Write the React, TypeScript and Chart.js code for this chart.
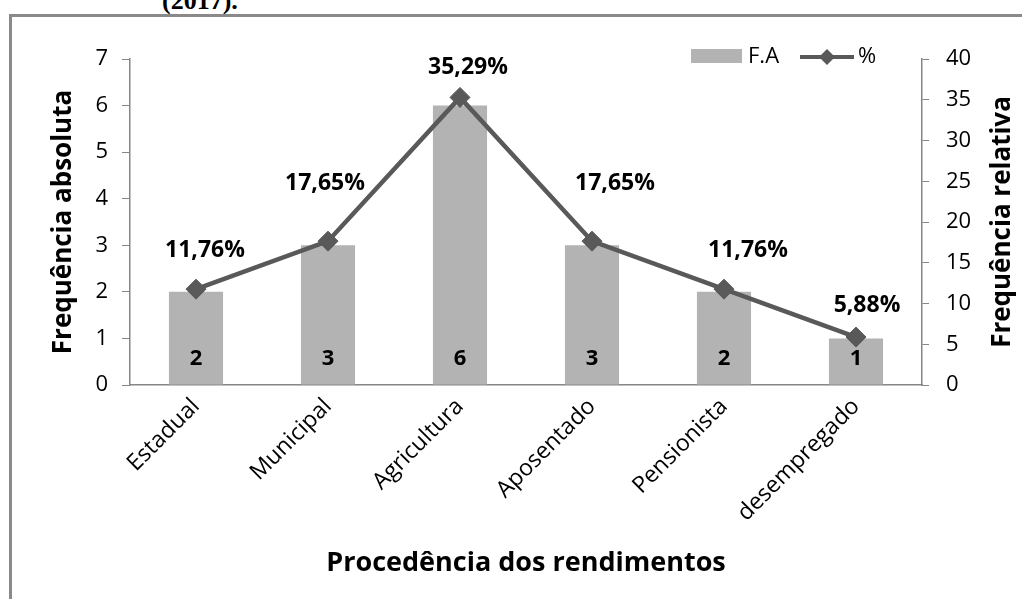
import React, { useEffect, useRef } from "react";
import { Chart, registerables } from "chart.js";

Chart.register(...registerables);

// ---- data ----
const categories = ["Estadual", "Municipal", "Agricultura", "Aposentado", "Pensionista", "desempregado"];
const absoluteFreq = [2, 3, 6, 3, 2, 1];
const relativeFreq = [11.76, 17.65, 35.29, 17.65, 11.76, 5.88];
const leftAxisMax = 7;
const rightAxisMax = 40;
const rightAxisStep = 5;
const seriesNames = ["F.A", "%"];
const leftTitle = "Frequência absoluta";
const rightTitle = "Frequência relativa";
const bottomTitle = "Procedência dos rendimentos";
const headerText = "(2017).";

// ---- styles (label nudges, as in the original manual placement) ----
const pctLabelDx = [9, -3, 8, 23, 24, 11];
const pctLabelDy = [-39, -58, -30, -58, -39, -32];

const FONT = '"Open Sans", "Noto Sans", sans-serif';
const BAR_COLOR = "#b3b3b3";
const LINE_COLOR = "#595959";
const AXIS_COLOR = "#868686";

const overlayPlugin = {
  id: "overlay",
  afterDatasetsDraw(chart: any) {
    const { ctx, chartArea } = chart;
    const yScale = chart.scales.y;
    ctx.save();
    ctx.fillStyle = "#000";
    ctx.textAlign = "center";
    ctx.textBaseline = "middle";
    ctx.font = `bold 22px ${FONT}`;
    // bar value labels
    const barMeta = chart.getDatasetMeta(0);
    barMeta.data.forEach((el: any, i: number) => {
      ctx.fillText(String(absoluteFreq[i]), el.x, yScale.getPixelForValue(0) - 26);
    });
    // percentage labels
    ctx.font = `bold 23px ${FONT}`;
    const lineMeta = chart.getDatasetMeta(1);
    lineMeta.data.forEach((el: any, i: number) => {
      const txt = relativeFreq[i].toFixed(2).replace(".", ",") + "%";
      ctx.fillText(txt, el.x + pctLabelDx[i], el.y + pctLabelDy[i]);
    });

    // axis titles
    const midY = (chartArea.top + chartArea.bottom) / 2;
    ctx.font = `bold 26px ${FONT}`;
    ctx.save();
    ctx.translate(64, midY);
    ctx.rotate(-Math.PI / 2);
    ctx.fillText(leftTitle, 0, 0);
    ctx.restore();
    ctx.save();
    ctx.translate(chartArea.right + 81, midY);
    ctx.rotate(-Math.PI / 2);
    ctx.fillText(rightTitle, 0, 0);
    ctx.restore();
    ctx.font = `bold 27px ${FONT}`;
    ctx.fillText(bottomTitle, (chartArea.left + chartArea.right) / 2, 563);

    // legend
    const lx = chartArea.right - 231;
    const ly = chartArea.top - 2;
    ctx.fillStyle = BAR_COLOR;
    ctx.fillRect(lx, ly - 8, 51, 14);
    ctx.fillStyle = "#000";
    ctx.font = `22px ${FONT}`;
    ctx.textAlign = "left";
    ctx.fillText(seriesNames[0], lx + 57, ly);
    const sx = lx + 109;
    ctx.strokeStyle = LINE_COLOR;
    ctx.lineWidth = 4;
    ctx.beginPath();
    ctx.moveTo(sx, ly);
    ctx.lineTo(sx + 54, ly);
    ctx.stroke();
    ctx.fillStyle = LINE_COLOR;
    ctx.beginPath();
    const cx = sx + 27;
    ctx.moveTo(cx, ly - 8);
    ctx.lineTo(cx + 8, ly);
    ctx.lineTo(cx, ly + 8);
    ctx.lineTo(cx - 8, ly);
    ctx.closePath();
    ctx.fill();
    ctx.fillStyle = "#000";
    ctx.fillText(seriesNames[1], sx + 58, ly);
    ctx.restore();
  },
};

function ChartView() {
  const ref = useRef<HTMLCanvasElement | null>(null);
  useEffect(() => {
    if (!ref.current) return;
    const tickFont = { family: FONT, size: 22 };
    const chart = new Chart(ref.current, {
      type: "bar",
      data: {
        labels: categories,
        datasets: [
          {
            type: "bar",
            label: seriesNames[0],
            data: absoluteFreq,
            backgroundColor: BAR_COLOR,
            yAxisID: "y",
            order: 1,
            barPercentage: 0.41,
            categoryPercentage: 1,
          },
          {
            type: "line",
            label: seriesNames[1],
            data: relativeFreq,
            borderColor: LINE_COLOR,
            backgroundColor: LINE_COLOR,
            borderWidth: 4.5,
            pointStyle: "rectRot",
            pointRadius: 10,
            pointBackgroundColor: LINE_COLOR,
            pointBorderColor: LINE_COLOR,
            pointBorderWidth: 1,
            tension: 0,
            yAxisID: "y1",
            order: 0,
          } as any,
        ],
      },
      options: {
        animation: false,
        responsive: false,
        layout: { padding: { top: 59, left: 0, right: 0, bottom: 0 } },
        plugins: { legend: { display: false }, tooltip: { enabled: false } },
        scales: {
          x: {
            grid: { display: true, drawOnChartArea: false, drawTicks: false, color: AXIS_COLOR },
            border: { color: AXIS_COLOR, width: 1.5 },
            ticks: {
              font: { family: FONT, size: 23 },
              color: "#000",
              minRotation: 45,
              maxRotation: 45,
              padding: 8,
            },
            afterFit: (s: any) => {
              s.height = 214;
            },
          },
          y: {
            position: "left",
            min: 0,
            max: leftAxisMax,
            grid: { drawOnChartArea: false, drawTicks: true, tickLength: 8, color: AXIS_COLOR },
            border: { color: AXIS_COLOR, width: 1.5 },
            ticks: { stepSize: 1, font: tickFont, color: "#000", padding: 14 },
            afterFit: (s: any) => {
              s.width = 130;
            },
          },
          y1: {
            position: "right",
            min: 0,
            max: rightAxisMax,
            grid: { drawOnChartArea: false, drawTicks: true, tickLength: 7, color: AXIS_COLOR },
            border: { color: AXIS_COLOR, width: 1.5 },
            ticks: { stepSize: rightAxisStep, font: tickFont, color: "#000", padding: 17 },
            afterFit: (s: any) => {
              s.width = 100;
            },
          },
        },
      } as any,
      plugins: [overlayPlugin],
    });
    return () => chart.destroy();
  }, []);
  return (
    <canvas
      ref={ref}
      width={1022}
      height={599}
      style={{ position: "absolute", left: 0, top: 0, width: 1022, height: 599 }}
    />
  );
}

export default function App() {
  return (
    <div
      style={{
        position: "fixed",
        left: 0,
        top: 0,
        width: 1022,
        height: 599,
        overflow: "hidden",
        background: "#fff",
      }}
    >
      <div
        style={{
          position: "absolute",
          left: 162,
          top: -12,
          font: 'bold 26px "Liberation Serif", serif',
          lineHeight: "26px",
          whiteSpace: "nowrap",
          color: "#000",
        }}
      >
        {headerText}
      </div>
      <div
        style={{
          position: "absolute",
          left: 9,
          top: 14,
          width: 1100,
          height: 700,
          borderLeft: "3px solid #8a8a8a",
          borderTop: "3px solid #8a8a8a",
        }}
      />
      <ChartView />
    </div>
  );
}
